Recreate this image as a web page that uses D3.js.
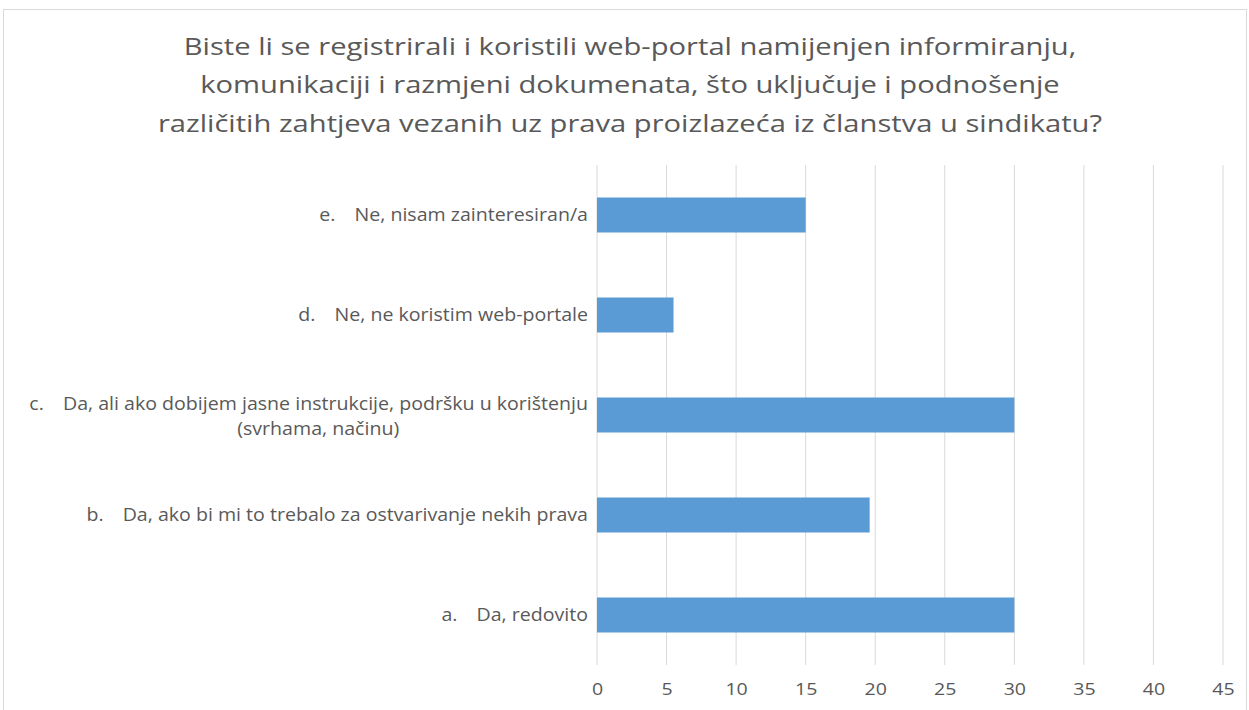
<!DOCTYPE html>
<html>
<head>
<meta charset="utf-8">
<script src="https://cdn.jsdelivr.net/npm/d3@7"></script>
<style>
  body { margin: 0; background: #fff; }
  svg { display: block; }
  .axis-label { fill: #595959; }
</style>
</head>
<body>
<svg id="chart"></svg>
<script>
// Chart data
const categories = [
  ['a.', 'Da, redovito'],
  ['b.', 'Da, ako bi mi to trebalo za ostvarivanje nekih prava'],
  ['c.', 'Da, ali ako dobijem jasne instrukcije, podršku u korištenju', '(svrhama, načinu)'],
  ['d.', 'Ne, ne koristim web-portale'],
  ['e.', 'Ne, nisam zainteresiran/a']
];
const values = [30, 19.6, 30, 5.5, 15];
const xTicks = [0, 5, 10, 15, 20, 25, 30, 35, 40, 45];
const titleLines = [
  'Biste li se registrirali i koristili web-portal namijenjen informiranju,',
  'komunikaciji i razmjeni dokumenata, što uključuje i podnošenje',
  'različitih zahtjeva vezanih uz prava proizlazeća iz članstva u sindikatu?'
];

const W = 1249, H = 710;
const margin = {top: 165, right: 26, bottom: 45, left: 597};
const font = "'Open Sans', 'Noto Sans', sans-serif";

const svg = d3.select('#chart').attr('width', W).attr('height', H);

// outer frame
svg.append('rect')
  .attr('x', 3.5).attr('y', 9.5)
  .attr('width', W - 6).attr('height', H)
  .attr('fill', 'none').attr('stroke', '#d9d9d9').attr('stroke-width', 1);

// title (source picture is stretched horizontally)
const title = svg.append('text')
  .attr('text-anchor', 'middle')
  .attr('fill', '#595959')
  .attr('transform', 'translate(630,0) scale(1.215,1)')
  .style('font-family', font)
  .style('font-size', '24px');
titleLines.forEach((t, i) => {
  title.append('tspan').attr('x', 0).attr('y', 55 + i * 38.5).text(t);
});

const xScale = d3.scaleLinear().domain([0, 45]).range([margin.left, margin.left + 626]);
const yScale = d3.scaleBand()
  .domain(d3.range(categories.length))
  .range([H - margin.bottom, margin.top])
  .paddingInner(0.65)
  .paddingOuter(0.325);

// gridlines
svg.append('g').selectAll('line')
  .data(xTicks)
  .join('line')
  .attr('x1', d => xScale(d)).attr('x2', d => xScale(d))
  .attr('y1', margin.top).attr('y2', H - margin.bottom)
  .attr('stroke', '#d9d9d9').attr('stroke-width', 1);

// bars
svg.append('g').selectAll('rect')
  .data(values)
  .join('rect')
  .attr('x', xScale(0))
  .attr('y', (d, i) => yScale(i))
  .attr('width', d => xScale(d) - xScale(0))
  .attr('height', yScale.bandwidth())
  .attr('fill', '#5b9bd5');

// x axis
const xAxis = d3.axisBottom(xScale).tickValues(xTicks).tickSize(0).tickPadding(18);
const xAxisG = svg.append('g')
  .attr('transform', `translate(0,${H - margin.bottom})`)
  .call(xAxis);
xAxisG.select('.domain').remove();
xAxisG.selectAll('text')
  .attr('fill', '#595959')
  .attr('transform', 'scale(1.15,1)')
  .style('font-family', font)
  .style('font-size', '17px');

// category labels
const labelG = svg.append('g')
  .style('font-family', font)
  .style('font-size', '17.5px')
  .attr('fill', '#595959');
categories.forEach((c, i) => {
  const cy = yScale(i) + yScale.bandwidth() / 2;
  const lines = c.slice(1);
  const g = labelG.append('g')
    .attr('transform', `translate(588,${cy}) scale(1.12,1)`);
  const t = g.append('text').attr('class', 'axis-label')
    .attr('text-anchor', 'end')
    .attr('x', 0)
    .attr('y', 6 - (lines.length - 1) * 11);
  t.append('tspan').text(c[0]);
  t.append('tspan').attr('dx', 17).text(lines[0]);
  if (lines.length > 1) {
    const w = t.node().getComputedTextLength();
    g.append('text').attr('class', 'axis-label')
      .attr('text-anchor', 'middle')
      .attr('x', -w / 2)
      .attr('y', 6 + 11 + 3)
      .text(lines[1]);
  }
});
</script>
</body>
</html>
